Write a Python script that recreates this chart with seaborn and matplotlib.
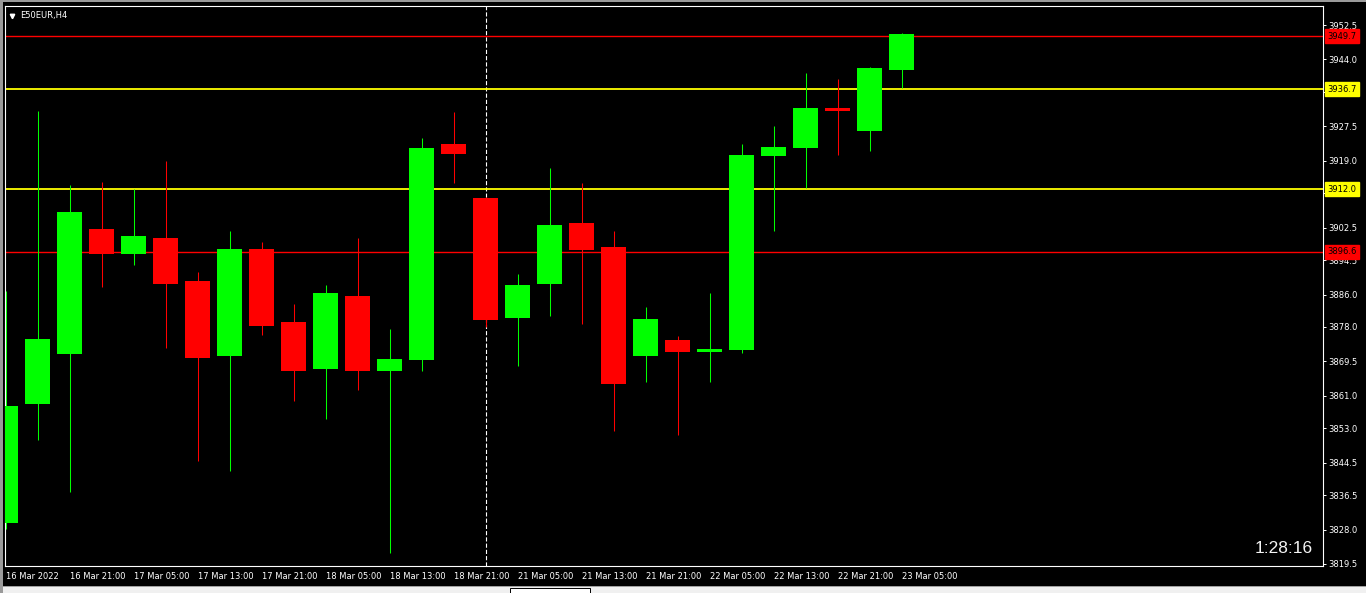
import matplotlib
matplotlib.use("Agg")
import matplotlib.pyplot as plt
from matplotlib.patches import Rectangle
import seaborn as sns
import pandas as pd
import numpy as np

# --- data (E50EUR, H4) ---
bar_index = list(range(29))
opens = [3829.7, 3859.1, 3871.4, 3902.2, 3896.1, 3899.9, 3889.3, 3870.9, 3897.2, 3879.2,
         3867.7, 3885.6, 3867.2, 3869.9, 3923.1, 3909.8, 3880.3, 3888.7, 3903.6, 3897.7,
         3870.9, 3874.8, 3871.9, 3872.4, 3920.3, 3922.2, 3932.0, 3926.4, 3941.5]
highs = [3886.9, 3931.3, 3913.0, 3913.8, 3912.0, 3918.9, 3891.6, 3901.7, 3899.0, 3883.7,
         3888.3, 3899.9, 3877.5, 3924.6, 3931.0, 3910.0, 3891.1, 3917.2, 3913.5, 3901.7,
         3882.9, 3875.8, 3886.4, 3923.1, 3927.6, 3940.7, 3939.2, 3942.1, 3950.5]
lows = [3828.2, 3850.1, 3837.3, 3887.9, 3893.4, 3872.9, 3845.0, 3842.5, 3876.1, 3859.8,
        3855.4, 3862.5, 3822.3, 3867.0, 3913.6, 3877.9, 3868.4, 3880.8, 3878.8, 3852.2,
        3864.5, 3851.4, 3864.5, 3871.6, 3901.7, 3912.4, 3920.5, 3921.5, 3937.0]
closes = [3858.5, 3875.0, 3906.4, 3896.1, 3900.4, 3888.7, 3870.4, 3897.2, 3878.3, 3867.2,
          3886.4, 3867.0, 3870.1, 3922.2, 3920.7, 3879.8, 3888.3, 3903.2, 3897.1, 3864.0,
          3880.0, 3871.9, 3872.6, 3920.4, 3922.4, 3932.0, 3931.4, 3941.9, 3950.3]

time_labels = ["16 Mar 2022", "16 Mar 21:00", "17 Mar 05:00", "17 Mar 13:00", "17 Mar 21:00",
               "18 Mar 05:00", "18 Mar 13:00", "18 Mar 21:00", "21 Mar 05:00", "21 Mar 13:00",
               "21 Mar 21:00", "22 Mar 05:00", "22 Mar 13:00", "22 Mar 21:00", "23 Mar 05:00"]
label_bars = list(range(0, 29, 2))

price_ticks = [3952.5, 3944.0, 3936.0, 3927.5, 3919.0, 3911.0, 3902.5, 3894.5, 3886.0,
               3878.0, 3869.5, 3861.0, 3853.0, 3844.5, 3836.5, 3828.0, 3819.5]
# these two sit under the yellow price tags, so their text is covered
covered_ticks = [3936.0, 3911.0]

red_levels = [3949.7, 3896.6]
yellow_levels = [3936.7, 3912.0]
separator_bar = 15
symbol = "E50EUR,H4"
countdown = "1:28:16"

df = pd.DataFrame({"bar": bar_index, "open": opens, "high": highs,
                   "low": lows, "close": closes})
df["up"] = df["close"] >= df["open"]
df["color"] = np.where(df["up"], "#00ff00", "#ff0000")
df["body_lo"] = df[["open", "close"]].min(axis=1)
df["body_h"] = (df["close"] - df["open"]).abs()

sns.set_theme(style="dark", rc={
    "axes.facecolor": "black", "figure.facecolor": "black",
    "axes.edgecolor": "white", "axes.linewidth": 0.8,
    "axes.grid": False, "lines.scale_dashes": False,
})
plt.rcParams["font.family"] = ["DejaVu Sans"]

fig = plt.figure(figsize=(13.66, 5.93), dpi=100)
ax = fig.add_axes([5 / 1366, 1 - 566 / 593, 1318 / 1366, 560 / 593])

# wicks then bodies
ax.vlines(df["bar"], df["low"], df["high"], colors=df["color"], linewidth=0.75, zorder=2)
ax.bar(df["bar"], df["body_h"], bottom=df["body_lo"], width=0.78,
       color=df["color"], linewidth=0, zorder=3)

for lv in red_levels:
    ax.axhline(lv, color="#ff0000", linewidth=1.0, zorder=1.5)
for lv in yellow_levels:
    ax.axhline(lv, color="#ffff00", linewidth=1.3, zorder=1.5)

ax.axvline(separator_bar, color="white", linewidth=0.8, linestyle=(0, (3, 1.5)), zorder=1.4)

ax.set_xlim(-0.016, 41.17)
ax.set_ylim(3819.0, 3957.2)

ax.yaxis.tick_right()
ax.set_yticks(price_ticks)
ax.set_yticklabels(["" if v in covered_ticks else f"{v:.1f}" for v in price_ticks])
ax.set_xticks(label_bars)
ax.set_xticklabels(time_labels, ha="left")
ax.tick_params(axis="both", colors="white", direction="out", length=2.2, width=0.7,
               labelsize=6, labelcolor="white")
ax.tick_params(axis="y", pad=1.5)
ax.tick_params(axis="x", pad=2)
for s in ax.spines.values():
    s.set_color("white")
    s.set_linewidth(0.8)

# price tags on the right axis
ytrans = ax.get_yaxis_transform()
for lv, col in [(red_levels[0], "#ff0000"), (yellow_levels[0], "#ffff00"),
                (yellow_levels[1], "#ffff00"), (red_levels[1], "#ff0000")]:
    ax.annotate(f"{lv:.1f}", xy=(1, lv), xycoords=ytrans, xytext=(4, 0),
                textcoords="offset pixels", ha="left", va="center", fontsize=6,
                color="black", zorder=6, annotation_clip=False,
                bbox=dict(boxstyle="square,pad=0.3", fc=col, ec=col))

# symbol title and countdown
ax.plot([0.0055], [0.983], marker="v", color="white", markersize=3.2,
        transform=ax.transAxes, clip_on=False)
ax.text(0.0115, 0.983, symbol, transform=ax.transAxes, color="white", fontsize=6,
        ha="left", va="center")
ax.text(0.9925, 0.032, countdown, transform=ax.transAxes, color="#f4f4f4",
        fontsize=12.5, family=["Liberation Sans", "DejaVu Sans"], ha="right", va="center")

# window chrome: gray edges and bottom tab strip
fig.patches.append(Rectangle((0, 0), 1, 6 / 593, transform=fig.transFigure,
                             facecolor="#f0f0f0", edgecolor="none", zorder=0))
fig.patches.append(Rectangle((0, 6 / 593), 1, 1 / 593, transform=fig.transFigure,
                             facecolor="#a0a0a0", edgecolor="none", zorder=0))
fig.patches.append(Rectangle((0, 0), 3 / 1366, 1, transform=fig.transFigure,
                             facecolor="#9a9a9a", edgecolor="none", zorder=0))
fig.patches.append(Rectangle((0, 1 - 2 / 593), 1, 2 / 593, transform=fig.transFigure,
                             facecolor="#9a9a9a", edgecolor="none", zorder=0))
fig.patches.append(Rectangle((510 / 1366, 0), 80 / 1366, 5 / 593, transform=fig.transFigure,
                             facecolor="#ffffff", edgecolor="#000000", linewidth=0.7, zorder=0))

fig.savefig("out.png", dpi=100, facecolor="black")
